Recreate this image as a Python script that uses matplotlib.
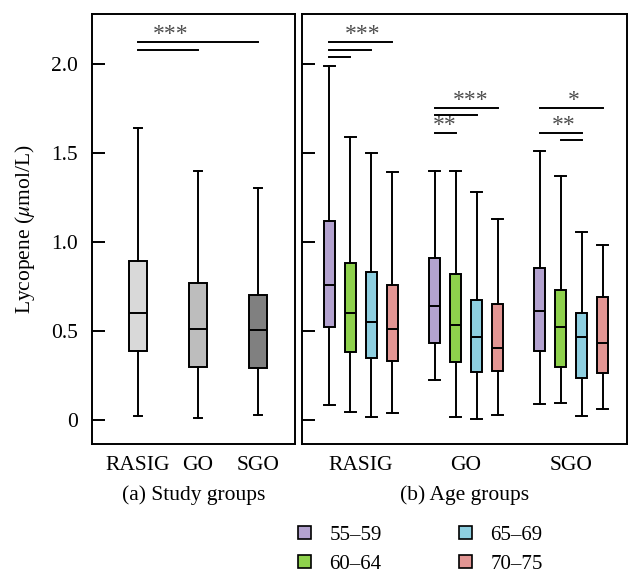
import matplotlib
matplotlib.use("Agg")
import matplotlib.pyplot as plt
from matplotlib.patches import Patch

plt.rcParams['font.family'] = ['Liberation Serif', 'DejaVu Serif']
plt.rcParams['mathtext.fontset'] = 'stix'

# ---- data ----
study_groups = ["RASIG", "GO", "SGO"]
# whislo, q1, med, q3, whishi
study_stats = [
    [0.02, 0.39, 0.60, 0.893, 1.64],
    [0.01, 0.30, 0.51, 0.77, 1.40],
    [0.03, 0.29, 0.505, 0.70, 1.30],
]
study_colors = ["#d9d9d9", "#bdbdbd", "#808080"]

age_groups = ["55–59", "60–64", "65–69", "70–75"]
age_colors = ["#b3a2cf", "#8ed14c", "#8dcfe0", "#e29593"]
age_stats = {
    "RASIG": [
        [0.085, 0.52, 0.76, 1.12, 1.99],
        [0.045, 0.38, 0.60, 0.88, 1.59],
        [0.017, 0.35, 0.55, 0.83, 1.50],
        [0.04, 0.33, 0.51, 0.76, 1.39],
    ],
    "GO": [
        [0.225, 0.43, 0.64, 0.91, 1.40],
        [0.017, 0.325, 0.535, 0.82, 1.40],
        [0.006, 0.27, 0.465, 0.675, 1.28],
        [0.03, 0.275, 0.405, 0.65, 1.13],
    ],
    "SGO": [
        [0.09, 0.39, 0.61, 0.855, 1.51],
        [0.095, 0.30, 0.52, 0.73, 1.37],
        [0.024, 0.235, 0.465, 0.60, 1.055],
        [0.06, 0.265, 0.43, 0.69, 0.98],
    ],
}

yticks = [0, 0.5, 1.0, 1.5, 2.0]
yticklabels = ["0", "0.5", "1.0", "1.5", "2.0"]


def mkstats(vals):
    lo, q1, med, q3, hi = vals
    return dict(whislo=lo, q1=q1, med=med, q3=q3, whishi=hi, fliers=[])


fig = plt.figure(figsize=(6.41, 5.82), dpi=100)
ax1 = fig.add_axes([92 / 641, 1 - 444 / 582, 203 / 641, 430 / 582])
ax2 = fig.add_axes([302 / 641, 1 - 444 / 582, 325 / 641, 430 / 582])

lw = 1.4
ylim = (-0.135, 2.28)
star_kw = dict(ha="center", va="baseline", fontsize=17, color="#4d4d4d")
tick_fs = 15.5
label_fs = 15.5

# ---- left panel ----
pos1 = [1, 2, 3]
bp = ax1.bxp([mkstats(s) for s in study_stats], positions=pos1, widths=0.3,
             capwidths=0.14, patch_artist=True, showfliers=False,
             boxprops=dict(linewidth=lw, edgecolor="black"),
             whiskerprops=dict(linewidth=lw), capprops=dict(linewidth=lw),
             medianprops=dict(linewidth=lw, color="black"))
for patch, c in zip(bp["boxes"], study_colors):
    patch.set_facecolor(c)
ax1.set_xlim(0.23, 3.62)
ax1.set_ylim(*ylim)
ax1.set_xticks(pos1)
ax1.set_xticklabels(study_groups)
ax1.set_yticks(yticks)
ax1.set_yticklabels(yticklabels)
ax1.set_xlabel("(a) Study groups", fontsize=label_fs, labelpad=7)
ax1.set_ylabel(r"Lycopene ($\mu$mol/L)", fontsize=label_fs, labelpad=10)
ax1.tick_params(axis="y", direction="in", length=9, width=1.4, labelsize=tick_fs, pad=10)
ax1.tick_params(axis="x", length=0, labelsize=tick_fs, pad=9)

# significance
ax1.plot([1, 3], [2.12, 2.12], color="black", lw=lw)
ax1.plot([1, 2], [2.08, 2.08], color="black", lw=lw)
ax1.text(1.55, 2.135, "***", **star_kw)

# ---- right panel ----
groups = list(age_stats.keys())
offsets = [-0.3, -0.1, 0.1, 0.3]
for gi, g in enumerate(groups):
    pos = [gi + o for o in offsets]
    bp = ax2.bxp([mkstats(s) for s in age_stats[g]], positions=pos, widths=0.105,
                 capwidths=0.105, patch_artist=True, showfliers=False,
                 boxprops=dict(linewidth=lw, edgecolor="black"),
                 whiskerprops=dict(linewidth=lw), capprops=dict(linewidth=lw),
                 medianprops=dict(linewidth=lw, color="black"))
    for patch, c in zip(bp["boxes"], age_colors):
        patch.set_facecolor(c)

ax2.set_xlim(-0.56, 2.53)
ax2.set_ylim(*ylim)
ax2.set_xticks(range(len(groups)))
ax2.set_xticklabels(groups)
ax2.set_yticks(yticks)
ax2.set_yticklabels([])
ax2.set_xlabel("(b) Age groups", fontsize=label_fs, labelpad=7)
ax2.tick_params(axis="y", direction="in", length=9, width=1.4)
ax2.tick_params(axis="x", length=0, labelsize=tick_fs, pad=9)

# significance annotations
def sig_line(x0, x1, y):
    ax2.plot([x0, x1], [y, y], color="black", lw=lw)

# RASIG
sig_line(-0.3, 0.3, 2.12)
sig_line(-0.3, 0.1, 2.08)
sig_line(-0.3, -0.1, 2.04)
ax2.text(0.02, 2.135, "***", **star_kw)
# GO
sig_line(0.7, 1.3, 1.75)
sig_line(0.7, 1.1, 1.71)
sig_line(0.7, 0.9, 1.61)
ax2.text(1.04, 1.765, "***", **star_kw)
ax2.text(0.8, 1.625, "**", **star_kw)
# SGO
sig_line(1.7, 2.3, 1.75)
sig_line(1.7, 2.1, 1.61)
sig_line(1.9, 2.1, 1.57)
ax2.text(2.02, 1.765, "*", **star_kw)
ax2.text(1.93, 1.625, "**", **star_kw)

for ax in (ax1, ax2):
    for sp in ax.spines.values():
        sp.set_linewidth(1.4)

# legend
handles = [Patch(facecolor=c, edgecolor="black", linewidth=1.2) for c in age_colors]
fig.legend(handles, age_groups, ncol=2, frameon=False, fontsize=15,
           loc="center", bbox_to_anchor=(0.656, 0.0553), handlelength=0.6,
           handleheight=0.6, handletextpad=0.9, columnspacing=3.7, labelspacing=0.45)

fig.savefig("out.png", dpi=100)
